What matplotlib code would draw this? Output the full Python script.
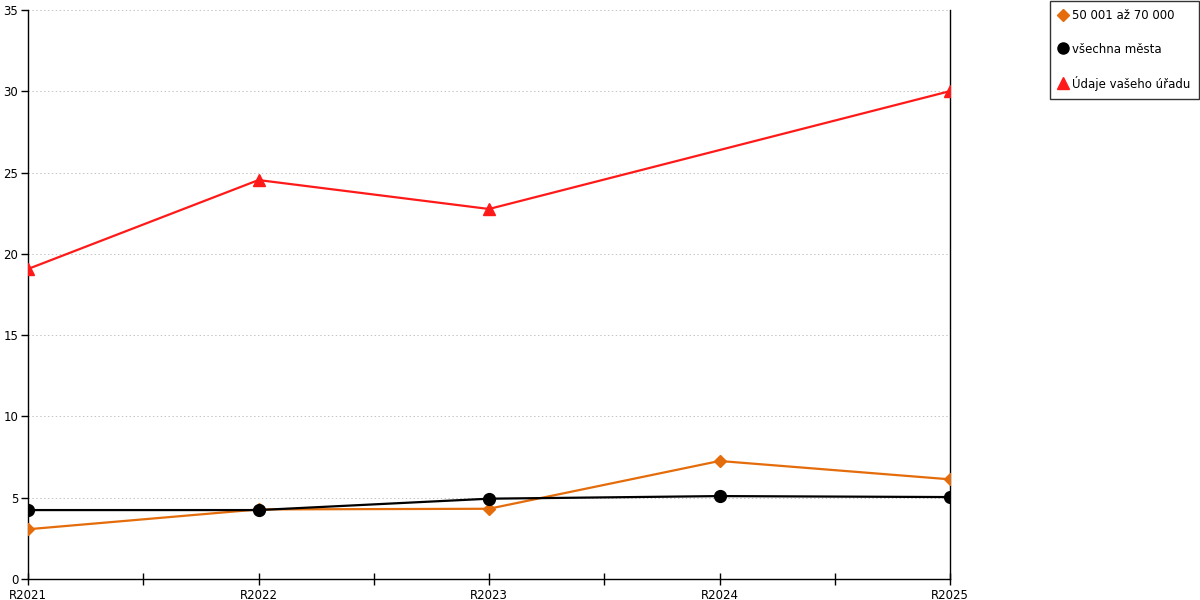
import numpy as np
import matplotlib.pyplot as plt
from matplotlib.lines import Line2D

years = ['R2021', 'R2022', 'R2023', 'R2024', 'R2025']
orange_vals = [3.06, 4.28, 4.32, 7.26, 6.13]
black_vals = [4.24, 4.24, 4.94, 5.10, 5.04]
red_years = ['R2021', 'R2022', 'R2023', 'R2025']
red_vals = [19.07, 24.54, 22.76, 30.01]

labels = ['50 001 až 70 000', 'všechna města', 'Údaje vašeho úřadu']
c_orange = '#E46C0A'
c_red = '#FF1A1A'

fig = plt.figure(figsize=(12, 6), dpi=100)
ax = fig.add_axes([28 / 1200, 21 / 600, 922 / 1200, 569 / 600])

xpos = {y: i for i, y in enumerate(years)}
ax.plot([xpos[y] for y in years], orange_vals, color=c_orange, lw=1.6,
        marker='D', ms=6, zorder=3)
ax.plot([xpos[y] for y in years], black_vals, color='black', lw=1.6,
        marker='o', ms=8.5, zorder=4)
ax.plot([xpos[y] for y in red_years], red_vals, color=c_red, lw=1.6,
        marker='^', ms=8, zorder=5)

ax.set_xlim(0, len(years) - 1)
ax.set_ylim(0, 35)
ax.set_yticks(np.arange(0, 36, 5))
ax.set_xticks(range(len(years)))
ax.set_xticklabels(years)
ax.set_xticks(np.arange(0.5, len(years) - 1, 1), minor=True)
ax.grid(axis='y', color='#c4c4c4', linestyle=(0, (1.5, 2.5)), linewidth=0.7)
ax.set_axisbelow(True)

ax.spines['top'].set_visible(False)
for s in ['left', 'right', 'bottom']:
    ax.spines[s].set_linewidth(1.0)
ax.tick_params(axis='x', which='both', direction='inout', length=9, width=1,
               labelsize=8.5, pad=3)
ax.tick_params(axis='y', direction='out', length=5, width=1, labelsize=8.5, pad=2)

handles = [
    Line2D([], [], color=c_orange, marker='D', ls='none', ms=6),
    Line2D([], [], color='black', marker='o', ls='none', ms=8),
    Line2D([], [], color=c_red, marker='^', ls='none', ms=8),
]
leg = fig.legend(handles, labels, loc='upper right', bbox_to_anchor=(0.9995, 0.999),
                 fontsize=8.5, frameon=True, fancybox=False, edgecolor='black',
                 handlelength=0.7, handletextpad=0.4, labelspacing=1.7,
                 borderpad=0.75, borderaxespad=0)
leg.get_frame().set_linewidth(1.0)

fig.savefig('out.png', dpi=100)
